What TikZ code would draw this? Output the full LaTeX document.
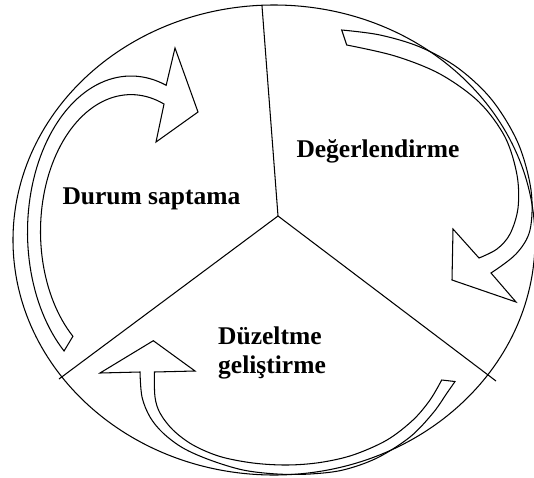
\documentclass[tikz,border=0pt]{standalone}
\usepackage{fontspec}
\setmainfont{Liberation Serif}
\begin{document}
\begin{tikzpicture}[x=1pt,y=-1pt,
  lbl/.style={font=\fontsize{25.5}{29}\selectfont\bfseries, inner sep=0pt},
  rim/.style={line width=1.05pt},
  divline/.style={line width=1.05pt},
  band/.style={draw, line width=1.05pt, line join=miter}]
\useasboundingbox (0,0) rectangle (534,477);

% outer ellipse
\draw[rim] (274,240) ellipse [x radius=261pt, y radius=235pt];

% dividers
\coordinate (c) at (278,216);
\coordinate (top) at (262,6);
\coordinate (ll) at (59,379);
\coordinate (lr) at (496,381);
\draw[divline] (c) -- (top);
\draw[divline] (c) -- (ll);
\draw[divline] (c) -- (lr);

% arrow 1 (left, pointing right at top)
\draw[band]
  plot[domain=0:1,samples=70,variable=\t]
    ({131+103.5*cos(130.3+\t*159.7)},{232+156*sin(130.3+\t*159.7)})
  -- (175,48) -- (198,112) -- (156,142)
  -- plot[domain=0:1,samples=70,variable=\t]
    ({131+90.5*cos(291.4-\t*161.6)},{231.4+136.8*sin(291.4-\t*161.6)})
  -- cycle;

% arrow 2 (right, pointing down-left)
\draw[band]
  plot[smooth,tension=0.55] coordinates {(341.7,30) (380,35) (420,47) (458,68) (492,100) (518,143) (531,190) (530,230) (516,254) (491,273)}
  -- (516,302) -- (452,280) -- (453,229)
  -- plot[smooth,tension=0.55] coordinates {(479,258) (497,249) (510,234) (518,208) (517,175) (505,137) (479,102) (440,74) (395,56) (346.7,45)}
  -- cycle;

% arrow 3 (bottom, pointing up)
\draw[band]
  plot[smooth,tension=0.55] coordinates {(140,372) (142,397) (150,417) (163,433) (183,448) (210,460) (243,470) (277,474) (310,474) (343,470) (377,458) (410,437) (433,413) (447,393) (455,381.5)}
  -- plot[smooth,tension=0.55] coordinates {(441.7,380) (430,400) (413,420) (387,440) (353,455) (320,462.5) (287,465) (253,463) (220,456.5) (193,445) (173,430) (160,413) (155,397) (154.3,372)}
  -- (195,371) -- (153.3,340.7) -- (100,373) -- cycle;

% labels
\node[lbl, anchor=base west] (ds) at (62.3,204.7) {Durum saptama};
\node[lbl, anchor=base west] (dg) at (296.3,157.2) {Değerlendirme};
\node[lbl, anchor=base west, align=left] (dz) at (218,373.6) {Düzeltme\\geliştirme};
\end{tikzpicture}
\end{document}
